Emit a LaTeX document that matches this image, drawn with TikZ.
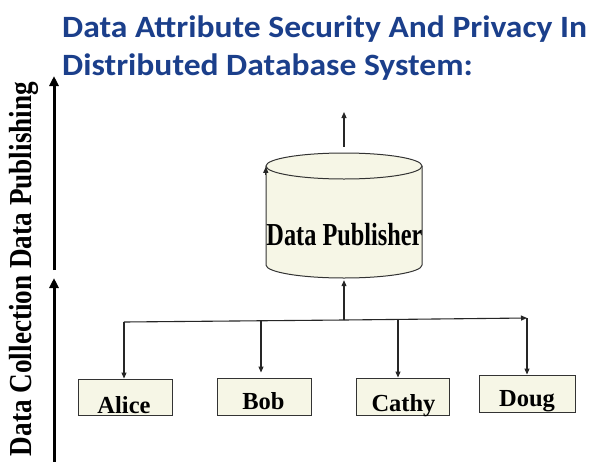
\documentclass[tikz,border=0pt]{standalone}
\usepackage{fontspec}
\setmainfont{Liberation Serif}
\newfontfamily\titlefont{Carlito}
\usetikzlibrary{arrows.meta}

\definecolor{titleblue}{HTML}{1B3F8B}
\definecolor{cream}{HTML}{F6F6E6}

\begin{document}
\begin{tikzpicture}[x=1pt,y=1pt,
  thinarrow/.style={draw=black!85, line width=1.1pt, -{Triangle[length=6pt,width=5pt]}},
  bigarrow/.style={draw=black, line width=3pt, -{Triangle[length=10pt,width=9pt]}},
  personbox/.style={draw=black!80, line width=1pt, fill=cream, inner sep=0pt},
  persontext/.style={font=\fontsize{24.5}{26}\selectfont\bfseries, inner sep=0pt, anchor=base},
  titletext/.style={font=\titlefont\fontsize{31}{33}\selectfont\bfseries, text=titleblue, inner sep=0pt, anchor=base west}
]
\useasboundingbox (0,0) rectangle (595,-461);
\fill[white] (0,0) rectangle (595,-461);

% heading
\node[titletext] (title1) at (62,-37) {\scalebox{1.083}[1]{Data Attribute Security And Privacy In}};
\node[titletext] (title2) at (62,-75) {\scalebox{1.083}[1]{Distributed Database System:}};

% phase axis on the left
\node[rotate=90, anchor=base, inner sep=0pt, font=\fontsize{32}{34}\selectfont\bfseries]
  (phases) at (31,-269) {\scalebox{0.85}[1]{Data Collection Data Publishing}};
\coordinate (collectlow) at (54,-470);
\coordinate (collecthigh) at (54,-278);
\coordinate (publow) at (54,-270);
\coordinate (pubhigh) at (54,-76);
\draw[bigarrow] (collectlow) -- (collecthigh);
\draw[bigarrow] (publow) -- (pubhigh);

% data publisher drum
\fill[cream] (266,-166) -- (266,-265)
  arc[start angle=180, end angle=360, x radius=78, y radius=13] -- (422,-166) -- cycle;
\draw[black!80, line width=1pt] (266,-166) -- (266,-265)
  arc[start angle=180, end angle=360, x radius=78, y radius=13] -- (422,-166);
\draw[black!80, line width=1pt, fill=cream] (344,-166) ellipse[x radius=78, y radius=13];
\node[minimum width=156pt, minimum height=125pt, inner sep=0pt] (pub) at (344,-215.5) {};
\node[inner sep=0pt, anchor=base, font=\fontsize{32}{34}\selectfont\bfseries]
  (publabel) at (344.5,-245) {\scalebox{0.76}[1]{Data Publisher}};
\draw[thinarrow] ([yshift=-22pt]pub.north west) -- ([yshift=-14pt]pub.north west);
\coordinate (release) at (344,-112);
\draw[thinarrow] ([yshift=6pt]pub.north) -- (release);

% owners
\node[personbox, minimum width=94pt, minimum height=36pt] (alice) at (125,-397) {};
\node[personbox, minimum width=94pt, minimum height=37pt] (bob) at (264,-396.5) {};
\node[personbox, minimum width=93pt, minimum height=37pt] (cathy) at (402.5,-396.5) {};
\node[personbox, minimum width=96pt, minimum height=37pt] (doug) at (527,-393.5) {};
\node[persontext] (alicet) at (124,-413) {Alice};
\node[persontext] (bobt) at (263.5,-409) {Bob};
\node[persontext] (cathyt) at (403.5,-411) {Cathy};
\node[persontext] (dougt) at (527,-406) {Doug};

% distribution bus
\coordinate (hub) at (344,-320);
\coordinate (busA) at (124,-322);
\coordinate (busB) at (261,-320.6);
\coordinate (busC) at (398,-319.4);
\coordinate (busD) at (527,-318);
\draw[thinarrow, shorten >=2pt] (hub) -- (pub.south);
\draw[black!85, line width=1.1pt] (busA) -- (hub);
\draw[thinarrow] (hub) -- (busD);
\draw[thinarrow] (busA) -- (alice.north -| busA);
\draw[thinarrow, shorten >=5pt] (busB) -- (bob.north -| busB);
\draw[thinarrow] (busC) -- (cathy.north -| busC);
\draw[thinarrow] (busD) -- (doug.north -| busD);
\end{tikzpicture}
\end{document}
